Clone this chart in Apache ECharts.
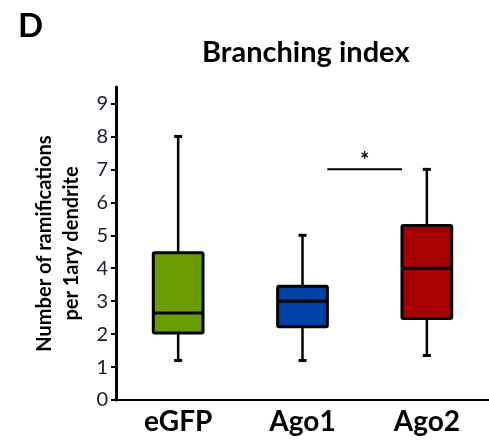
<!DOCTYPE html>
<html>
<head>
<meta charset="utf-8">
<script src="https://cdn.jsdelivr.net/npm/echarts@6/dist/echarts.min.js"></script>
<style>html,body{margin:0;padding:0;background:#fff}#c{width:489px;height:443px}</style>
</head>
<body>
<div id="c"></div>
<script>
const categories = ['eGFP', 'Ago1', 'Ago2'];
const whiskerLow = [1.2, 1.2, 1.35];
const q1 = [2.03, 2.22, 2.47];
const median = [2.64, 3.0, 4.0];
const q3 = [4.47, 3.45, 5.3];
const whiskerHigh = [8, 5, 7];
const yTicks = [0, 1, 2, 3, 4, 5, 6, 7, 8, 9];
const sigFrom = ['Ago1'];
const sigTo = ['Ago2'];
const sigLevel = [7];
const sigLabel = ['*'];

const boxColors = ['#6a9e00', '#0041a8', '#a80000'];
const FONT = 'Lato';

const boxData = categories.map((c, i) => [i, whiskerLow[i], q1[i], median[i], q3[i], whiskerHigh[i]]);
const sigData = sigFrom.map((f, k) => [categories.indexOf(f), categories.indexOf(sigTo[k]), sigLevel[k]]);

const chart = echarts.init(document.getElementById('c'), null, {renderer: 'canvas'});
chart.setOption({
  backgroundColor: '#fff',
  animation: false,
  title: [
    {text: 'D', left: 13, top: 5, textStyle: {fontFamily: FONT, fontWeight: 'bold', fontSize: 33, color: '#000'}},
    {text: 'Branching index', left: 197, top: 33, textStyle: {fontFamily: FONT, fontWeight: 'bold', fontSize: 29, color: '#000'}}
  ],
  grid: {left: 116, top: 87, width: 380, bottom: 43, containLabel: false},
  xAxis: {
    type: 'category',
    data: categories,
    boundaryGap: true,
    axisLine: {lineStyle: {color: '#000', width: 2}},
    axisTick: {show: false},
    axisLabel: {fontFamily: FONT, fontWeight: 'bold', fontSize: 28, color: '#000', margin: 8}
  },
  yAxis: {
    type: 'value',
    min: 0,
    max: 9.5,
    interval: 1,
    name: 'Number of ramifications\nper 1ary dendrite',
    nameLocation: 'middle',
    nameRotate: 90,
    nameGap: 26,
    nameTextStyle: {fontFamily: FONT, fontWeight: 'bold', fontSize: 20, color: '#000', lineHeight: 27},
    splitLine: {show: false},
    axisLine: {show: true, lineStyle: {color: '#000', width: 3}},
    axisTick: {show: true, inside: false, length: 5, lineStyle: {color: '#000', width: 2}, customValues: yTicks},
    axisLabel: {fontFamily: FONT, fontSize: 20, color: '#1a1a2a', margin: 8, customValues: yTicks}
  },
  series: [
    {
      type: 'custom',
      data: boxData,
      encode: {x: 0, y: [1, 2, 3, 4, 5]},
      renderItem: function (params, api) {
        const i = api.value(0);
        const bw = api.size([1, 0])[0] * 0.4;
        const pLow = api.coord([i, api.value(1)]);
        const pQ1 = api.coord([i, api.value(2)]);
        const pMed = api.coord([i, api.value(3)]);
        const pQ3 = api.coord([i, api.value(4)]);
        const pHigh = api.coord([i, api.value(5)]);
        const x = pMed[0];
        const capW = 8;
        const black = '#000';
        return {
          type: 'group',
          children: [
            {type: 'line', shape: {x1: x, y1: pLow[1], x2: x, y2: pQ1[1]}, style: {stroke: black, lineWidth: 2.5}},
            {type: 'line', shape: {x1: x, y1: pQ3[1], x2: x, y2: pHigh[1]}, style: {stroke: black, lineWidth: 2.5}},
            {type: 'line', shape: {x1: x - capW / 2, y1: pLow[1], x2: x + capW / 2, y2: pLow[1]}, style: {stroke: black, lineWidth: 3}},
            {type: 'line', shape: {x1: x - capW / 2, y1: pHigh[1], x2: x + capW / 2, y2: pHigh[1]}, style: {stroke: black, lineWidth: 3}},
            {type: 'rect', shape: {x: x - bw / 2, y: pQ3[1], width: bw, height: pQ1[1] - pQ3[1], r: 1.5},
              style: {fill: boxColors[i], stroke: black, lineWidth: 3}},
            {type: 'line', shape: {x1: x - bw / 2, y1: pMed[1], x2: x + bw / 2, y2: pMed[1]}, style: {stroke: black, lineWidth: 3}}
          ]
        };
      },
      z: 3
    },
    {
      type: 'custom',
      data: sigData,
      encode: {x: [0, 1], y: 2},
      renderItem: function (params, api) {
        const bw = api.size([1, 0])[0] * 0.4;
        const a = api.coord([api.value(0), api.value(2)]);
        const b = api.coord([api.value(1), api.value(2)]);
        const x1 = a[0] + bw / 2, x2 = b[0] - bw / 2;
        return {
          type: 'group',
          children: [
            {type: 'line', shape: {x1: x1, y1: a[1], x2: x2, y2: a[1]}, style: {stroke: '#000', lineWidth: 2}},
            {type: 'text', style: {text: sigLabel[params.dataIndex], x: (x1 + x2) / 2, y: a[1] + 3, align: 'center', verticalAlign: 'bottom',
              font: 'bold 22px ' + FONT, fill: '#000'}}
          ]
        };
      },
      z: 3
    }
  ]
});
</script>
</body>
</html>
